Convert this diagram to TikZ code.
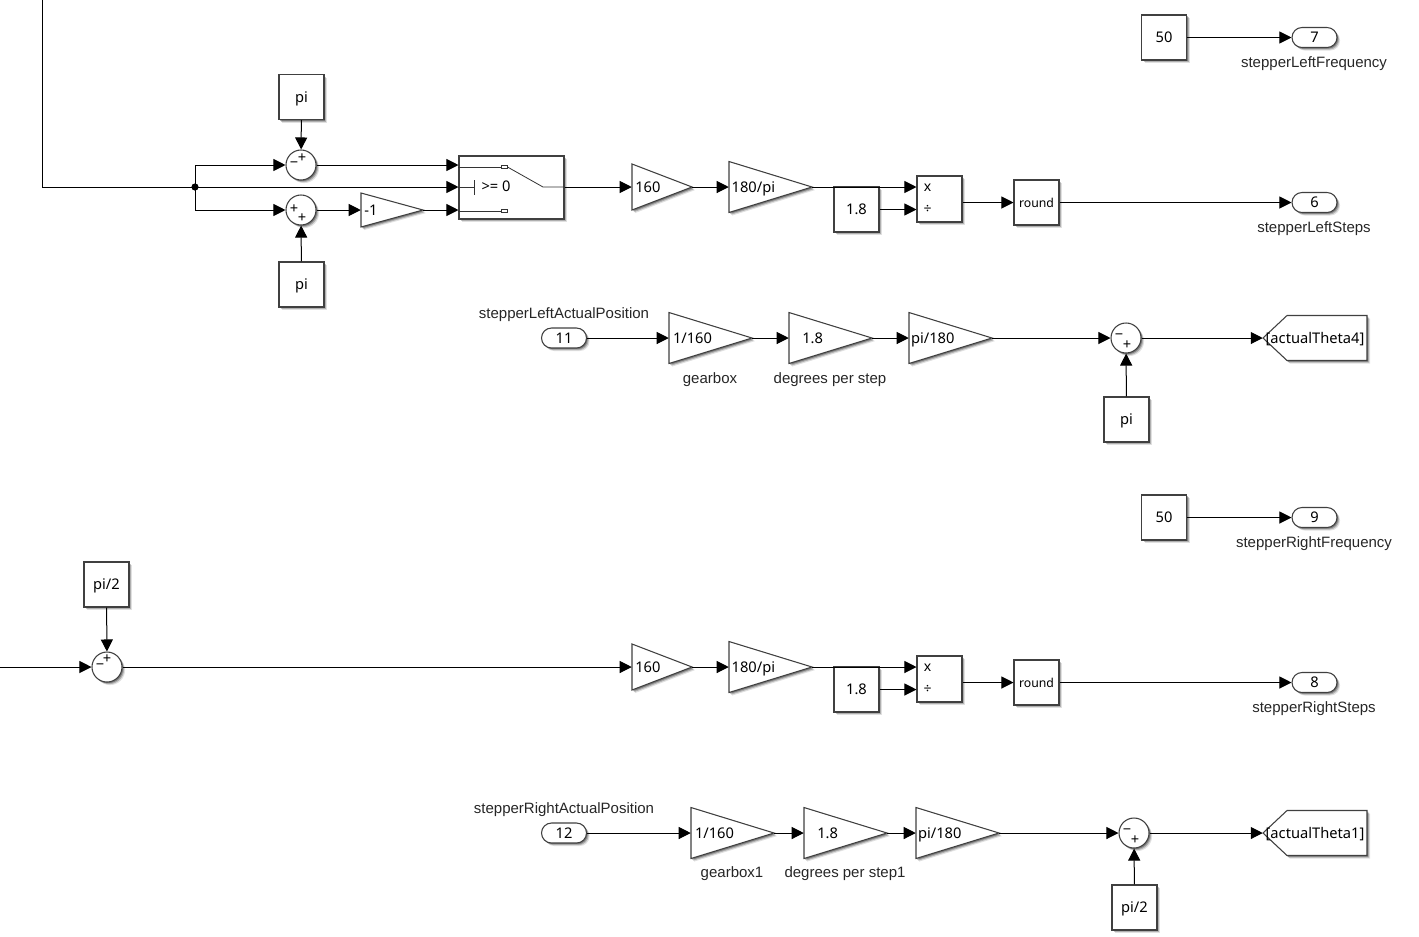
\documentclass[tikz,border=0pt]{standalone}
\usepackage{xcolor}
\usepackage{fontspec}
\setmainfont{Noto Sans}
\newfontfamily\labelfont{Liberation Sans}
\usepackage{tikz}
\usetikzlibrary{arrows.meta, calc, positioning, shadows, shapes.misc}

\tikzset{
    softshadow/.style={
        drop shadow={shadow xshift=2.3pt, shadow yshift=-2.3pt, fill=black, opacity=0.12},
        drop shadow={shadow xshift=1.6pt, shadow yshift=-1.6pt, fill=black, opacity=0.22},
        drop shadow={shadow xshift=0.9pt, shadow yshift=-0.9pt, fill=black, opacity=0.3}},
    blockline/.style={draw=black!75, line width=0.8pt, fill=white},
    blocktext/.style={font=\fontsize{11}{12}\selectfont, text height=9pt, text depth=1.5pt},
    constblock/.style={blockline, softshadow, blocktext, minimum width=33.75pt, minimum height=33.75pt, inner sep=0pt},
    prodblock/.style={blockline, softshadow, minimum width=33.75pt, minimum height=34.5pt, inner sep=0pt},
    roundblock/.style={constblock, font=\fontsize{9.2}{11}\selectfont},
    switchblock/.style={blockline, softshadow, minimum width=78.75pt, minimum height=47.25pt, inner sep=0pt},
    sumblock/.style={circle, blockline, softshadow, minimum size=22.5pt, inner sep=0pt},
    outport/.style={rounded rectangle, blockline, softshadow, blocktext, minimum width=33.75pt, minimum height=15pt, inner sep=0pt},
    gainblock/.style={blocktext, inner xsep=0pt, inner ysep=0pt, align=left},
    gototext/.style={blocktext, inner sep=0pt, minimum width=78pt, minimum height=33.75pt},
    portlabel/.style={inner sep=0pt, yshift=-1pt, font=\labelfont\fontsize{11.25}{12}\selectfont, text=black!85},
    signmark/.style={inner sep=0pt, font=\fontsize{11}{11}\selectfont},
    prodmark/.style={inner sep=0pt, font=\fontsize{10.5}{10}\selectfont},
    wire/.style={line width=0.75pt, -{Triangle[length=9pt, width=9pt]}},
    plainwire/.style={line width=0.75pt},
    innerline/.style={line width=0.6pt, draw=black!80}
}

\begin{document}
\begin{tikzpicture}[x=0.75pt, y=-0.75pt]
    \useasboundingbox (0,0) rectangle (1419,936);

    % --- CONSTANTS ---
    \node[constblock] (piTop) at (301.5,97) {pi};
    \node[constblock] (piBottom) at (301.5,284.5) {pi};
    \node[constblock] (freqLeft) at (1164,37.5) {50};
    \node[constblock] (freqRight) at (1164,517.5) {50};
    \node[constblock] (stepLeft) at (856.5,209.5) {1.8};
    \node[constblock] (stepRight) at (856.5,689.5) {1.8};
    \node[constblock] (piLeft) at (1126.5,419.5) {pi};
    \node[constblock] (piHalfTop) at (106.5,584.5) {pi/2};
    \node[constblock] (piHalfRight) at (1134.5,907.5) {pi/2};

    % --- SUMS ---
    \node[sumblock] (sumUpper) at (301,165) {};
    \node[sumblock] (sumLower) at (301,210) {};
    \node[sumblock] (sumLeft) at (1126,338) {};
    \node[sumblock] (sumOffset) at (107,667) {};
    \node[sumblock] (sumRight) at (1134,833) {};
    \foreach \nm/\x/\y/\sg in {a/294/164.5/−, b/302/158/+, c/294/209.5/+, d/302/218/+, e/1119/337/−, f/1127/345/+, g/100/667/−, h/107/659/+, i/1127/832/−, j/1135/840/+}
        \node[signmark] (sign\nm) at (\x,\y) {\sg};

    % --- GAINS ---
    \foreach \nm/\x/\y/\w/\h/\ins/\txt in {
        gainNeg/361/210/62/34/2.5pt/-1,
        gainMotorL/632/187/60/46/2.5pt/160,
        gainDegL/729/187/83/51/2pt/{180/pi},
        gainBoxL/669/338/83/51/3pt/{1/160},
        gainStepL/789/338/83/51/10pt/1.8,
        gainRadL/909/338/83/51/1.5pt/{pi/180},
        gainMotorR/632/667/60/46/2.5pt/160,
        gainDegR/729/667/83/51/2pt/{180/pi},
        gainBoxR/691/833/83/51/3pt/{1/160},
        gainStepR/804/833/83/51/10pt/1.8,
        gainRadR/916/833/83/51/1.5pt/{pi/180}} {
        \draw[blockline, softshadow] (\x,\y-\h/2) -- (\x+\w,\y) -- (\x,\y+\h/2) -- cycle;
        \node[gainblock, text width=\w*0.75pt, minimum height=\h*0.75pt] (\nm) at (\x+\w/2,\y) {\hspace*{\ins}\txt};
    }

    % --- SWITCH ---
    \node[switchblock] (switchA) at (511.5,187.5) {};
    \node[gainblock] (switchText) at (496,186) {>= 0};
    \draw[innerline] (switchA.west |- 0,167) -- (501,167);
    \draw[innerline] (501.5,165.5) rectangle (507.5,168.5);
    \draw[innerline] (507.5,167) -- (543,187) -- (switchA.east |- 0,187);
    \draw[innerline] (switchA.west |- 0,187) -- (474,187);
    \draw[innerline] (474,180) -- (474,195);
    \draw[innerline] (switchA.west |- 0,211) -- (501,211);
    \draw[innerline] (501.5,209) rectangle (507.5,212);

    % --- PRODUCTS AND ROUNDING ---
    \node[prodblock] (prodLeft) at (939.5,199) {};
    \node[prodblock] (prodRight) at (939.5,679) {};
    \foreach \nm/\y in {a/187.5, c/667.5} \node[prodmark] (mult\nm) at (927.5,\y) {x};
    \foreach \nm/\y in {b/209.5, d/689.5} \node[prodmark] (div\nm) at (927.5,\y) {÷};
    \node[roundblock] (roundLeft) at (1036.5,202.5) {round};
    \node[roundblock] (roundRight) at (1036.5,682.5) {round};

    % --- OUTPORTS AND INPORTS ---
    \node[outport] (portSeven) at (1314.5,37.5) {7};
    \node[outport] (portSix) at (1314.5,202.5) {6};
    \node[outport] (portNine) at (1314.5,517.5) {9};
    \node[outport] (portEight) at (1314.5,682.5) {8};
    \node[outport] (portEleven) at (564,338) {11};
    \node[outport] (portTwelve) at (564,833) {12};

    % --- GOTO TAGS ---
    \foreach \nm/\y/\txt in {gotoLeft/338/{[actualTheta4]}, gotoRight/833/{[actualTheta1]}} {
        \draw[blockline, softshadow] (1263,\y) -- (1287,\y-22.5) -- (1367,\y-22.5) -- (1367,\y+22.5) -- (1287,\y+22.5) -- cycle;
        \node[gototext] (\nm) at (1315,\y) {\txt};
    }

    % --- LABELS ---
    \node[portlabel] (labelSeven) at (1314,62) {stepperLeftFrequency};
    \node[portlabel] (labelSix) at (1314,227) {stepperLeftSteps};
    \node[portlabel] (labelNine) at (1314,542) {stepperRightFrequency};
    \node[portlabel] (labelEight) at (1314,707) {stepperRightSteps};
    \node[portlabel] (labelEleven) at (564,313) {stepperLeftActualPosition};
    \node[portlabel] (labelTwelve) at (564,808) {stepperRightActualPosition};
    \node[portlabel] (labelGearL) at (710,378) {gearbox};
    \node[portlabel] (labelStepL) at (830,378) {degrees per step};
    \node[portlabel] (labelGearR) at (732,872) {gearbox1};
    \node[portlabel] (labelStepR) at (845,872) {degrees per step1};

    % --- TOP ROW WIRES ---
    \coordinate (feedTop) at (42.5,0);
    \coordinate (feedJoin) at (195,187);
    \coordinate (feedLeft) at (0,667);
    \fill (feedJoin) circle (2.7pt);
    \draw[plainwire] (feedTop) |- (feedJoin);
    \draw[wire] (feedJoin) |- (sumUpper.west);
    \draw[wire] (feedJoin) |- (sumLower.west);
    \draw[wire] (feedJoin) -- (feedJoin -| switchA.west);
    \draw[wire] (piTop) -- (sumUpper);
    \draw[wire] (piBottom) -- (sumLower);
    \draw[wire] (sumUpper.east) -- (sumUpper.east -| switchA.west);
    \draw[wire] (sumLower.east) -- (gainNeg.west);
    \draw[wire] (gainNeg.east) -- (gainNeg.east -| switchA.west);
    \draw[wire] (switchA.east |- feedJoin) -- (gainMotorL.west);
    \draw[wire] (gainMotorL.east) -- (gainDegL.west);
    \draw[wire] (gainDegL.east) -- (gainDegL.east -| prodLeft.west);
    \draw[wire] (stepLeft.east) -- (stepLeft.east -| prodLeft.west);
    \draw[wire] (prodLeft.east |- roundLeft.west) -- (roundLeft.west);
    \draw[wire] (roundLeft.east) -- (portSix.west);
    \draw[wire] (freqLeft.east) -- (portSeven.west);

    % --- LEFT FEEDBACK WIRES ---
    \draw[wire] (portEleven.east) -- (gainBoxL.west);
    \draw[wire] (gainBoxL.east) -- (gainStepL.west);
    \draw[wire] (gainStepL.east) -- (gainRadL.west);
    \draw[wire] (gainRadL.east) -- (sumLeft.west);
    \draw[wire] (piLeft) -- (sumLeft);
    \draw[wire] (sumLeft.east) -- (gotoLeft.west);

    % --- RIGHT ROW WIRES ---
    \draw[wire] (freqRight.east) -- (portNine.west);
    \draw[wire] (feedLeft) -- (sumOffset.west);
    \draw[wire] (piHalfTop) -- (sumOffset);
    \draw[wire] (sumOffset.east) -- (gainMotorR.west);
    \draw[wire] (gainMotorR.east) -- (gainDegR.west);
    \draw[wire] (gainDegR.east) -- (gainDegR.east -| prodRight.west);
    \draw[wire] (stepRight.east) -- (stepRight.east -| prodRight.west);
    \draw[wire] (prodRight.east |- roundRight.west) -- (roundRight.west);
    \draw[wire] (roundRight.east) -- (portEight.west);

    % --- RIGHT FEEDBACK WIRES ---
    \draw[wire] (portTwelve.east) -- (gainBoxR.west);
    \draw[wire] (gainBoxR.east) -- (gainStepR.west);
    \draw[wire] (gainStepR.east) -- (gainRadR.west);
    \draw[wire] (gainRadR.east) -- (sumRight.west);
    \draw[wire] (piHalfRight) -- (sumRight);
    \draw[wire] (sumRight.east) -- (gotoRight.west);
\end{tikzpicture}
\end{document}
